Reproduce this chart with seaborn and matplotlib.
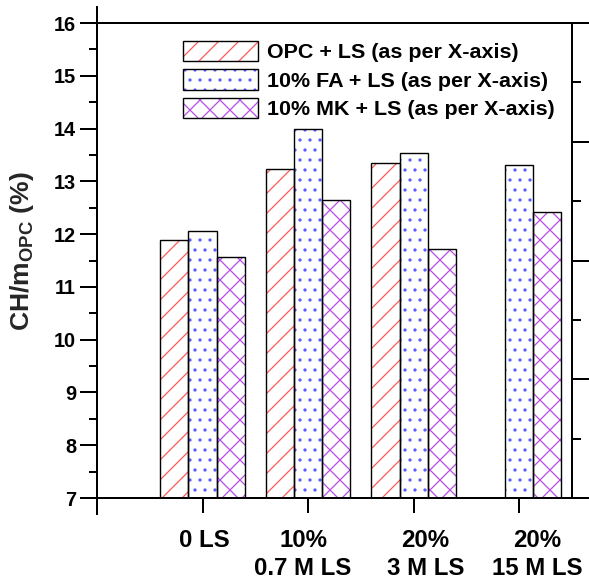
import numpy as np
import pandas as pd
import matplotlib
matplotlib.use("Agg")
import matplotlib.pyplot as plt
import matplotlib.transforms as mtransforms
import seaborn as sns
from matplotlib.ticker import MultipleLocator, NullLocator
from matplotlib.patches import Patch
from matplotlib.legend_handler import HandlerTuple

# ---- data -------------------------------------------------------------
categories = ["0 LS", "10%\n0.7 M LS", "20%\n3 M LS", "20%\n15 M LS"]
series = ["OPC + LS (as per X-axis)",
          "10% FA + LS (as per X-axis)",
          "10% MK + LS (as per X-axis)"]
opc_ls = [11.88, 13.23, 13.34, np.nan]
fa_ls = [12.06, 14.00, 13.53, 13.31]
mk_ls = [11.56, 12.65, 11.71, 12.42]

hatches = ["//", "..", "xx"]
hatch_colors = ["#FF5A5A", "#5A5AFF", "#B84CE8"]

rows = []
for name, vals in zip(series, [opc_ls, fa_ls, mk_ls]):
    for cat, v in zip(categories, vals):
        rows.append({"Mix": cat, "Series": name, "CH": v})
df = pd.DataFrame(rows)

# ---- sizing helpers ---------------------------------------------------
DPI = 120
W, H = 589, 580


def px(v):
    """pixels -> points at the output resolution"""
    return v * 72.0 / DPI


# ---- style ------------------------------------------------------------
sns.set_theme(style="white")
plt.rcParams.update({
    "font.family": ["Liberation Sans", "DejaVu Sans"],
    "font.weight": "bold",
    "mathtext.fontset": "custom",
    "mathtext.bf": "Liberation Sans:bold",
    "mathtext.rm": "Liberation Sans:bold",
    "hatch.linewidth": px(1.25),
    "axes.linewidth": px(2),
    "axes.edgecolor": "black",
    "text.color": "black",
    "xtick.color": "black",
    "ytick.color": "black",
})

fig = plt.figure(figsize=(W / DPI, H / DPI), dpi=DPI)
ax = fig.add_axes([97 / W, 1 - 498 / H, 475 / W, 475 / H])

# hatched bodies (hatch colour follows the edge colour, edge itself hidden)
sns.barplot(data=df, x="Mix", y="CH", hue="Series", order=categories,
            hue_order=series, palette=["white"] * 3, saturation=1,
            errorbar=None, legend=False, width=0.8, linewidth=0, ax=ax)
for cont, col, h in zip(ax.containers, hatch_colors, hatches):
    for bar in cont:
        bar.set_hatch(h)
        bar.set_edgecolor(col)
        bar.set_linewidth(0)

# black outlines on top
sns.barplot(data=df, x="Mix", y="CH", hue="Series", order=categories,
            hue_order=series, palette=["black"] * 3, saturation=1,
            fill=False, errorbar=None, legend=False, width=0.8,
            linewidth=px(1.4), ax=ax)

ax.set_xlim(-1, 3.5)
ax.set_ylim(7, 16)
ax.set_xticks([-1, 0, 1, 2, 3])
ax.set_xticklabels([""] + categories, fontsize=px(24), fontweight="bold",
                   linespacing=1.3)
ax.xaxis.set_minor_locator(NullLocator())
ax.yaxis.set_major_locator(MultipleLocator(1))
ax.yaxis.set_minor_locator(MultipleLocator(0.5))
for lab in ax.get_yticklabels():
    lab.set_fontweight("bold")

ax.tick_params(axis="y", which="major", direction="out", length=px(17),
               width=px(2), left=True, right=False, labelsize=px(20),
               pad=px(4))
ax.tick_params(axis="y", which="minor", direction="out", length=px(8),
               width=px(2), left=True, right=False)
ax.tick_params(axis="x", which="major", direction="out", length=px(15),
               width=px(2), bottom=True, top=False, pad=px(16))

# horizontal nudges of the category labels (pixels)
label_shift = [0, 2, -5, 12, 18]
for lab, dx in zip(ax.get_xticklabels(), label_shift):
    lab.set_transform(lab.get_transform() + mtransforms.ScaledTranslation(
        dx / DPI, 0, fig.dpi_scale_trans))

for s in ax.spines.values():
    s.set_visible(True)
    s.set_color("black")
    s.set_linewidth(px(2))
ax.spines["left"].set_bounds(6.70, 16.30)

ax.set_xlabel("")
ax.set_ylabel(r"CH/m$_{\mathbf{OPC}}$ (%)", fontsize=px(26.5),
              fontweight="bold")
ax.yaxis.set_label_coords(-0.128, 0.52)

# secondary right axis (ticks only)
ax2 = ax.twinx()
ax2.set_ylim(0, 4)
ax2.yaxis.set_major_locator(MultipleLocator(1))
ax2.yaxis.set_minor_locator(MultipleLocator(0.5))
ax2.tick_params(axis="y", which="major", direction="out", length=px(17),
                width=px(2), right=True, left=False, labelright=False)
ax2.tick_params(axis="y", which="minor", direction="out", length=px(9),
                width=px(2), right=True, left=False)
ax2.grid(False)
for k in ["left", "top", "bottom"]:
    ax2.spines[k].set_visible(False)
ax2.spines["right"].set_color("black")
ax2.spines["right"].set_linewidth(px(2))

# legend
fs_leg = px(21.5)
handles = [(Patch(facecolor="white", edgecolor=c, hatch=h, linewidth=0),
            Patch(facecolor="none", edgecolor="black", linewidth=px(1.4)))
           for c, h in zip(hatch_colors, hatches)]
ax.legend(handles, series, handler_map={tuple: HandlerTuple(ndivide=1, pad=0)},
          loc="upper left", bbox_to_anchor=(0.181, 0.962), frameon=False,
          prop={"size": fs_leg, "weight": "bold"},
          handlelength=75 / 21.5, handleheight=23 / 21.5,
          handletextpad=9 / 21.5, labelspacing=0.32,
          borderpad=0, borderaxespad=0)

fig.savefig("out.png", dpi=DPI)
